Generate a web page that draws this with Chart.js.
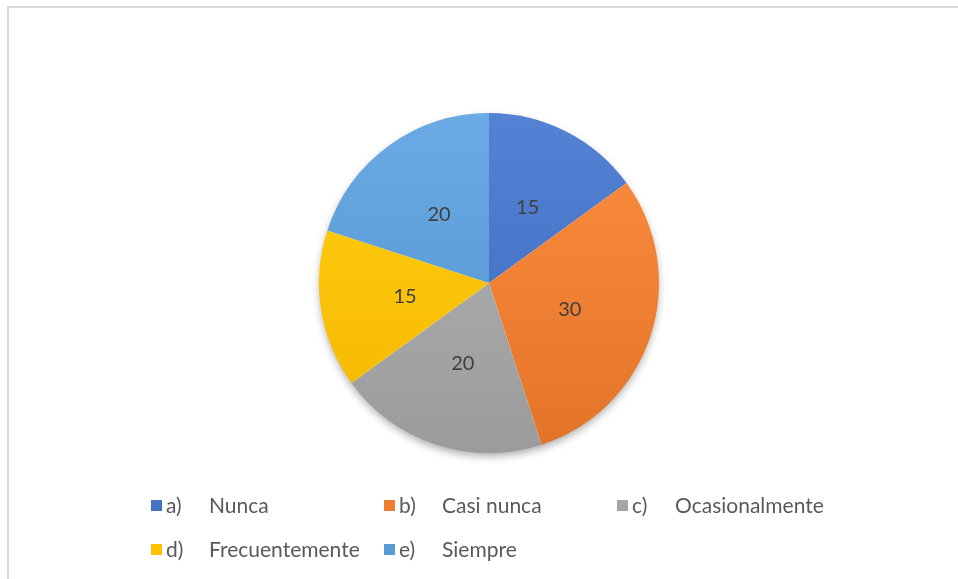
<!DOCTYPE html>
<html lang="es">
<head>
<meta charset="utf-8">
<title>Frecuencia</title>
<script src="https://cdn.jsdelivr.net/npm/chart.js@4.4.1/dist/chart.umd.min.js"></script>
<style>
  html, body { margin: 0; padding: 0; background: #fff; overflow: hidden; }
  #wrap { position: relative; width: 958px; height: 579px; }
  #frame { position: absolute; left: 7px; top: 6px; width: 980px; height: 600px; border: 2px solid #d9d9d9; box-sizing: border-box; }
  #pie { position: absolute; left: 0; top: 0; }
</style>
</head>
<body>
<div id="wrap">
  <div id="frame"></div>
  <canvas id="pie" width="958" height="579"></canvas>
</div>
<script>
// answer options, in drawing order (clockwise from 12 o'clock)
const MARKS = ['a)', 'b)', 'c)', 'd)', 'e)'];
const CATEGORIES = ['Nunca', 'Casi nunca', 'Ocasionalmente', 'Frecuentemente', 'Siempre'];
const VALUES = [15, 30, 20, 15, 20];
const COLORS = ['#4472C4', '#ED7D31', '#A5A5A5', '#FFC000', '#5B9BD5'];

const FONT = 'Lato, "Open Sans", "Liberation Sans", sans-serif';

// shift a hex colour lighter (+) or darker (-)
function shade(hex, amt) {
  const n = parseInt(hex.slice(1), 16);
  const ch = [(n >> 16) & 255, (n >> 8) & 255, n & 255].map((c) => Math.max(0, Math.min(255, Math.round(c + amt))));
  return `rgb(${ch[0]},${ch[1]},${ch[2]})`;
}

// top-to-bottom gradient across the pie, like the office-style fill
function sliceFill(ctx) {
  const chart = ctx.chart, area = chart.chartArea;
  const base = COLORS[ctx.dataIndex];
  if (!area) return base;
  const g = chart.ctx.createLinearGradient(0, area.top, 0, area.bottom);
  g.addColorStop(0, shade(base, 16));
  g.addColorStop(1, shade(base, -10));
  return g;
}

// soft shadow under the whole disc
const pieShadow = {
  id: 'pieShadow',
  beforeDatasetsDraw(chart) {
    const arc = chart.getDatasetMeta(0).data[0]; if (!arc) return;
    const { x, y, outerRadius } = arc.getProps(['x', 'y', 'outerRadius'], true);
    const c = chart.ctx;
    c.save();
    c.shadowColor = 'rgba(0,0,0,0.35)'; c.shadowBlur = 9; c.shadowOffsetY = 4;
    c.beginPath(); c.arc(x, y, outerRadius - 1, 0, Math.PI * 2); c.fillStyle = '#fff'; c.fill();
    c.restore();
  },
};

// value labels halfway out along each slice
const sliceLabels = {
  id: 'sliceLabels',
  afterDatasetsDraw(chart) {
    const c = chart.ctx, vals = chart.data.datasets[0].data;
    c.save();
    c.font = `20px ${FONT}`; c.fillStyle = '#404040'; c.textAlign = 'center'; c.textBaseline = 'middle';
    chart.getDatasetMeta(0).data.forEach((arc, i) => {
      const p = arc.getProps(['x', 'y', 'startAngle', 'endAngle', 'outerRadius'], true);
      const mid = (p.startAngle + p.endAngle) / 2, r = p.outerRadius * 0.5;
      c.fillText(String(vals[i]), p.x + Math.cos(mid) * r, p.y + Math.sin(mid) * r);
    });
    c.restore();
  },
};

// legend below the pie: three columns, wraps onto a second row
const gridLegend = {
  id: 'gridLegend',
  afterDraw(chart) {
    const c = chart.ctx;
    const x0 = 151, colW = 233, rows = [506, 550];
    c.save();
    c.font = `21px ${FONT}`; c.textBaseline = 'middle';
    let x = x0, row = 0;
    CATEGORIES.forEach((name, i) => {
      if (i === 3) { row = 1; x = x0; }
      const y = rows[row];
      c.fillStyle = COLORS[i]; c.fillRect(x, y - 6, 11, 11);
      c.fillStyle = '#595959';
      c.fillText(MARKS[i], x + 15, y);
      c.fillText(name, x + 58, y);
      x += colW;
    });
    c.restore();
  },
};

new Chart(document.getElementById('pie'), {
  type: 'pie',
  data: {
    labels: CATEGORIES,
    datasets: [{ data: VALUES, backgroundColor: sliceFill, borderWidth: 0 }],
  },
  options: {
    responsive: false,
    animation: false,
    layout: { padding: { left: 319, right: 299, top: 113, bottom: 126 } },
    plugins: { legend: { display: false }, tooltip: { enabled: false } },
  },
  plugins: [pieShadow, sliceLabels, gridLegend],
});
</script>
</body>
</html>
